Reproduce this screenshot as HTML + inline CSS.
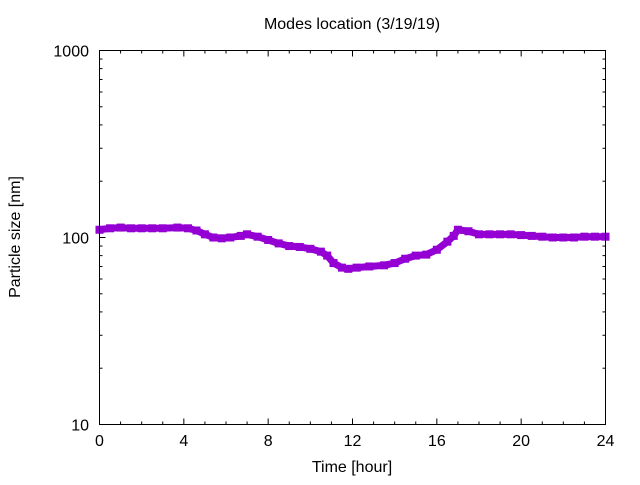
<!DOCTYPE html>
<html><head><meta charset="utf-8"><style>
body{margin:0;background:#fff;}
svg text{font-family:"Liberation Sans","DejaVu Sans",sans-serif;font-size:16px;fill:#000;}
</style></head><body>
<svg id="chart" width="640" height="480" xmlns="http://www.w3.org/2000/svg">
<rect width="640" height="480" fill="#fff"/>
<text x="352" y="29" text-anchor="middle" font-size="16">Modes location (3/19/19)</text>
<text x="352" y="472" text-anchor="middle">Time [hour]</text>
<text transform="translate(20,237) rotate(-90)" text-anchor="middle">Particle size [nm]</text>
<g id="ticks"></g>
<g id="series"></g>
<rect x="99.5" y="50.5" width="506" height="374" fill="none" stroke="#000" stroke-width="1"/>
</svg>
<script>
const hours=[0,0.5,1,1.5,2,2.5,3,3.7,4.2,4.6,5,5.4,5.8,6.2,6.7,7,7.5,8,8.5,9,9.5,10,10.5,10.8,11.1,11.5,11.8,12.2,12.8,13.5,14,14.5,15,15.5,16,16.5,16.8,17,17.5,18,18.5,19,19.5,20,20.5,21,21.5,22,22.5,23,23.5,24];
const sizes=[110,112,113,112,112,112,112,113,112,109,104,100,99,100,102,104,101,97,93,90,89,87,84,80,73,69,68,69,70,71,73,77,80,81,86,95,102,110,108,104,104,104,104,103,102,101,100,100,100,101,101,101];
const xTicks=[0,4,8,12,16,20,24];
const yTicks=[10,100,1000];
const X0=99.5,X1=605.5,Y0=424.5,Y1=50.5;
const xs=h=>X0+(h-0)/24*(X1-X0);
const ys=v=>Y0-(Math.log10(v)-1)/2*(Y0-Y1);
const NS="http://www.w3.org/2000/svg";
const tg=document.getElementById('ticks');
function mk(tag,attrs,parent){const e=document.createElementNS(NS,tag);for(const k in attrs)e.setAttribute(k,attrs[k]);parent.appendChild(e);return e;}
for(let h=0;h<=24;h++){
  const x=xs(h),len=(h%4===0)?6:3;
  const t1=mk('line',{x1:x,x2:x,y1:Y0,y2:Y0-len,stroke:'#000'},tg);
  
  
  const t2=mk('line',{x1:x,x2:x,y1:Y1,y2:Y1+len,stroke:'#000'},tg);
  
  
}
xTicks.forEach(h=>{
  const t=mk('text',{x:xs(h),y:446,'text-anchor':'middle'},tg);t.textContent=h;
  
  
});
for(let d=1;d<=2;d++){for(let m=1;m<=10;m++){
  const v=Math.pow(10,d)*m;if(v>1000)break;
  const y=ys(v),len=(m===1)?6:3;
  const a=mk('line',{x1:X0,x2:X0+len,y1:y,y2:y,stroke:'#000'},tg);
  
  
  const b=mk('line',{x1:X1,x2:X1-len,y1:y,y2:y,stroke:'#000'},tg);
  
  
}}
yTicks.forEach(v=>{
  const t=mk('text',{x:89,y:ys(v)+6,'text-anchor':'end'},tg);t.textContent=v;
  
  
});
const sg=document.getElementById('series');
const pts=hours.map((h,i)=>xs(h)+','+ys(sizes[i])).join(' ');
const pl=mk('polyline',{points:pts,fill:'none',stroke:'#9400d3','stroke-width':7,'stroke-linejoin':'round','stroke-linecap':'round'},sg);


hours.forEach((h,i)=>{
  const c=mk('rect',{x:xs(h)-4,y:ys(sizes[i])-4,width:8,height:8,fill:'#9400d3'},sg);
  
  
});
</script>
</body></html>
